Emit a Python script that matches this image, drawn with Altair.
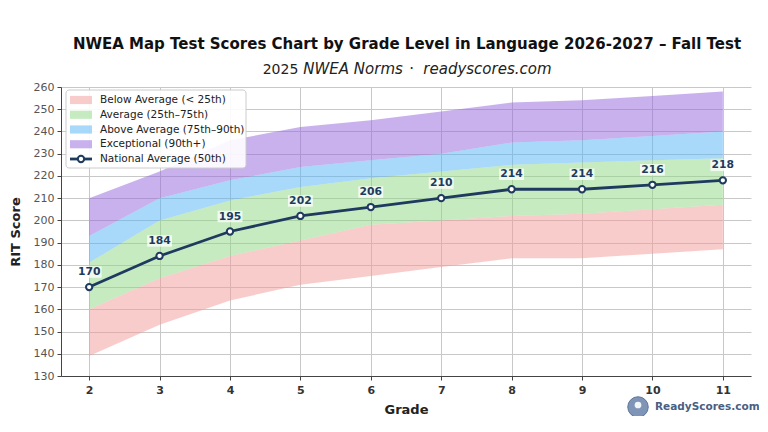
import altair as alt
import pandas as pd

# ---------------- data ----------------
grades = [2, 3, 4, 5, 6, 7, 8, 9, 10, 11]
p_bottom = [139, 153, 164, 171, 175, 179, 183, 183, 185, 187]
p25 = [160, 174, 184, 191, 198, 200, 202, 203, 205, 207]
p75 = [181, 200, 209, 215, 219, 222, 225, 226, 227, 228]
p90 = [193, 210, 218, 224, 227, 230, 235, 236, 238, 240]
p_top = [210, 222, 236, 242, 245, 249, 253, 254, 256, 258]
national_avg = [170, 184, 195, 202, 206, 210, 214, 214, 216, 218]

band_labels = [
    "Below Average (< 25th)",
    "Average (25th–75th)",
    "Above Average (75th–90th)",
    "Exceptional (90th+)",
]
line_label = "National Average (50th)"
y_ticks = list(range(130, 261, 10))

title_text = "NWEA Map Test Scores Chart by Grade Level in Language 2026-2027 – Fall Test"
subtitle_parts = ["2025", "NWEA Norms", "·", "readyscores.com"]
brand_text = "ReadyScores.com"

# ---------------- styles ----------------
band_colors = ["#F39999", "#8DD781", "#51B1F5", "#9363DD"]
navy = "#1e3a5f"
FONT = "DejaVu Sans"

df = pd.DataFrame({
    "grade": grades, "p_bottom": p_bottom, "p25": p25, "p75": p75,
    "p90": p90, "p_top": p_top, "avg": national_avg,
})

x_enc = alt.X(
    "grade:Q",
    scale=alt.Scale(domain=[1.6, 11.4], nice=False, zero=False),
    axis=alt.Axis(values=grades, format="d", title="Grade", titleFontSize=13,
                  titleFontWeight="bold", titleColor="#222", titlePadding=8,
                  labelFontSize=11, labelFontWeight="bold", labelColor="#333",
                  labelPadding=4, tickSize=4, tickColor="#444", domainColor="#444",
                  grid=True, gridColor="#c8c8c8", labelFlush=False, labelOverlap=False),
)
y_scale = alt.Scale(domain=[130, 260], nice=False, zero=False)
y_axis = alt.Axis(values=y_ticks, title="RIT Score", titleFontSize=13, titleFontWeight="bold",
                  titleColor="#222", titlePadding=11, labelFontSize=11, labelColor="#555",
                  labelPadding=3, tickSize=4, tickColor="#444", domainColor="#444",
                  grid=True, gridColor="#c8c8c8", labelOverlap=False, labelFlush=False)


def Y(field):
    return alt.Y(f"{field}:Q", scale=y_scale, axis=y_axis)


base = alt.Chart(df)
lows = ["p_bottom", "p25", "p75", "p90"]
highs = ["p25", "p75", "p90", "p_top"]
areas = [
    base.mark_area(color=c, opacity=0.5).encode(x=x_enc, y=Y(lo), y2=alt.Y2(f"{hi}:Q"))
    for lo, hi, c in zip(lows, highs, band_colors)
]
line = base.mark_line(color=navy, strokeWidth=2.8).encode(x=x_enc, y=Y("avg"))
points = base.mark_point(filled=True, fill="white", stroke=navy, strokeWidth=2,
                         size=40, opacity=1).encode(x=x_enc, y=Y("avg"))
label_bg = base.mark_point(shape="M-1,-0.46H1V0.46H-1Z", filled=True, fill="white",
                           fillOpacity=0.75, strokeWidth=0, size=620, yOffset=-15).encode(
    x=x_enc, y=Y("avg"))
labels = base.mark_text(dy=-15, fontSize=10.8, fontWeight="bold", color=navy,
                        baseline="middle", font=FONT).encode(
    x=x_enc, y=Y("avg"), text=alt.Text("avg:Q", format="d"))

one = pd.DataFrame({"t": [title_text]})
title = alt.Chart(one).mark_text(fontSize=15, fontWeight="bold", color="#111", align="center",
                                 baseline="alphabetic", font=FONT).encode(
    x=alt.value(346), y=alt.value(-38), text="t:N")

sub_x = [201.7, 242.3, 350.7, 362.3]
sub_size = [14, 15, 15, 15]
sub_align = ["left", "left", "center", "left"]
sub_style = ["normal", "italic", "normal", "italic"]
subtitle_layers = []
for txt, xx, fs, al, st in zip(subtitle_parts, sub_x, sub_size, sub_align, sub_style):
    subtitle_layers.append(
        alt.Chart(pd.DataFrame({"t": [txt]})).mark_text(
            fontSize=fs, fontStyle=st, color="#222", align=al, baseline="alphabetic", font=FONT
        ).encode(x=alt.value(xx), y=alt.value(-13), text="t:N")
    )

brand_df = pd.DataFrame({"t": [brand_text]})
brand_circle = alt.Chart(brand_df).mark_point(filled=True, fill="#7f95b8", stroke="#5f7698",
                                              strokeWidth=1, size=420, opacity=1).encode(
    x=alt.value(577), y=alt.value(320))
brand_dot = alt.Chart(brand_df).mark_point(filled=True, fill="white", size=45, opacity=0.9,
                                           strokeWidth=0).encode(
    x=alt.value(577), y=alt.value(318))
brand = alt.Chart(brand_df).mark_text(fontSize=10.5, fontWeight="bold", color="#4a5f82",
                                      align="left", baseline="middle", font=FONT).encode(
    x=alt.value(594), y=alt.value(320), text="t:N")

main = alt.layer(*areas, line, points, label_bg, labels, title, *subtitle_layers,
                 brand_circle, brand_dot, brand)

# ---------------- legend ----------------
legend_labels = band_labels + [line_label]
leg_y = alt.Y("label:N", sort=legend_labels,
              scale=alt.Scale(type="point", domain=legend_labels, range=[13, 72], padding=0),
              axis=None)
box = alt.Chart(pd.DataFrame({"a": [0]})).mark_rect(
    fill="white", fillOpacity=0.9, stroke="#cccccc", strokeWidth=1, cornerRadius=3
).encode(x=alt.value(5), x2=alt.value(185), y=alt.value(3), y2=alt.value(81))
band_df = pd.DataFrame({"label": band_labels})
swatches = alt.Chart(band_df).mark_point(
    shape="M-1,-0.37H1V0.37H-1Z", filled=True, size=484, opacity=0.5, strokeWidth=0
).encode(x=alt.value(20), y=leg_y,
         color=alt.Color("label:N", scale=alt.Scale(domain=band_labels, range=band_colors),
                         legend=None))
leg_text = alt.Chart(pd.DataFrame({"label": legend_labels})).mark_text(
    align="left", baseline="middle", fontSize=10.5, color="#222", font=FONT
).encode(x=alt.value(39), y=leg_y, text="label:N")
line_df = pd.DataFrame({"label": [line_label]})
leg_line = alt.Chart(line_df).mark_rule(color=navy, strokeWidth=2.8).encode(
    x=alt.value(9), x2=alt.value(31), y=leg_y)
leg_pt = alt.Chart(line_df).mark_point(filled=True, fill="white", stroke=navy, strokeWidth=2,
                                       size=40, opacity=1).encode(x=alt.value(20), y=leg_y)
legend = alt.layer(box, swatches, leg_text, leg_line, leg_pt)

chart = alt.layer(main, legend).resolve_scale(y="independent", color="independent").properties(
    width=690, height=289,
    autosize=alt.AutoSizeParams(type="none"),
    padding={"left": 53, "top": 79, "right": 8, "bottom": 40},
).configure(font=FONT).configure_view(stroke=None)

chart.save("out.html", embed_options={"renderer": "svg", "actions": False})
